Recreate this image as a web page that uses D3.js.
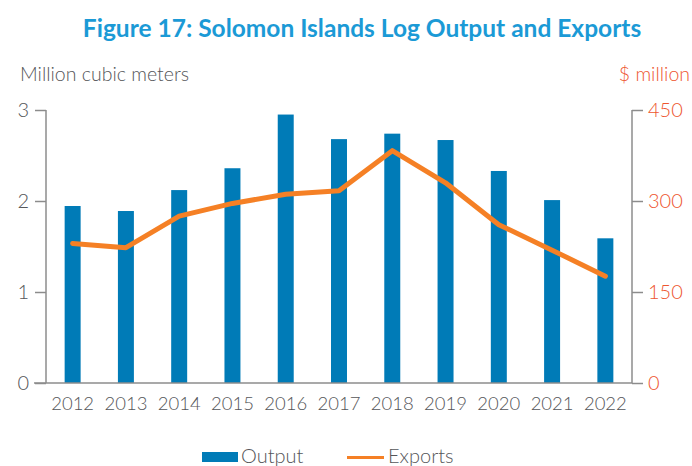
<!DOCTYPE html>
<html lang="en">
<head>
    <meta charset="UTF-8">
    <title>Solomon Islands Log Output and Exports</title>
    <script src="https://d3js.org/d3.v7.min.js"></script>
    <style>
        body { margin: 0; background: #fff; }
        text { font-family: Lato, "Open Sans", sans-serif; }
    </style>
</head>
<body>
<div id="chart"></div>
<script>
    // values
    const years = ["2012", "2013", "2014", "2015", "2016", "2017", "2018", "2019", "2020", "2021", "2022"];
    const output = [1.945, 1.89, 2.12, 2.36, 2.95, 2.68, 2.74, 2.67, 2.33, 2.01, 1.59];
    const exportsM = [230, 223, 275, 296, 311, 317, 383, 330, 261, 219, 176];
    const leftTicks = [0, 1, 2, 3];
    const rightTicks = [0, 150, 300, 450];

    function drawChart(width, height) {
        const svg = d3.select("#chart").append("svg")
            .attr("width", width)
            .attr("height", height)
            .attr("viewBox", [0, 0, width, height]);

        const left = 46, right = 632, top = 110, bottom = 383;
        const axisColor = "#8c8c8c";
        const grey = "#555659";
        const red = "#ee5630";

        const x = d3.scaleBand()
            .domain(years)
            .range([left, right])
            .paddingInner(0.7)
            .paddingOuter(0.35);
        const yL = d3.scaleLinear().domain([0, 3]).range([bottom, top]);
        const yR = d3.scaleLinear().domain([0, 450]).range([bottom, top]);

        // title
        svg.append("text")
            .attr("x", 362).attr("y", 37)
            .attr("text-anchor", "middle")
            .attr("fill", "#1b9ad6")
            .attr("font-size", 24.5)
            .attr("font-weight", 700)
            .text("Figure 17: Solomon Islands Log Output and Exports");

        svg.append("text")
            .attr("x", 20).attr("y", 81)
            .attr("fill", grey)
            .attr("font-size", 19.5)
            .attr("font-weight", 300)
            .text("Million cubic meters");
        svg.append("text")
            .attr("x", 690).attr("y", 81)
            .attr("text-anchor", "end")
            .attr("fill", red)
            .attr("font-size", 19.5)
            .attr("font-weight", 300)
            .text("$ million");

        // bars
        svg.append("g").selectAll("rect")
            .data(years)
            .join("rect")
            .attr("x", d => x(d))
            .attr("y", (d, i) => yL(output[i]))
            .attr("width", x.bandwidth())
            .attr("height", (d, i) => bottom - yL(output[i]))
            .attr("fill", "#007bb7");

        // axes
        const leftAxis = svg.append("g")
            .attr("transform", `translate(${left},0)`)
            .call(d3.axisLeft(yL).tickValues(leftTicks).tickSize(11).tickPadding(6).tickFormat(d3.format("d")));
        leftAxis.select(".domain").attr("stroke", axisColor).attr("stroke-width", 1.5).attr("d", `M0,${top}V${bottom}`);
        leftAxis.selectAll(".tick line").attr("stroke", axisColor).attr("stroke-width", 1.5);
        leftAxis.selectAll(".tick text").attr("fill", grey).attr("font-size", 20).attr("font-weight", 300).attr("font-family", "Lato, sans-serif");

        const rightAxis = svg.append("g")
            .attr("transform", `translate(${right},0)`)
            .call(d3.axisRight(yR).tickValues(rightTicks).tickSize(11).tickPadding(5));
        rightAxis.select(".domain").attr("stroke", axisColor).attr("stroke-width", 1.5).attr("d", `M0,${top}V${bottom}`);
        rightAxis.selectAll(".tick line").attr("stroke", axisColor).attr("stroke-width", 1.5);
        rightAxis.selectAll(".tick text").attr("fill", red).attr("font-size", 20).attr("font-weight", 300).attr("font-family", "Lato, sans-serif");

        const bottomAxis = svg.append("g")
            .attr("transform", `translate(0,${bottom})`)
            .call(d3.axisBottom(x).tickSize(0).tickPadding(14));
        bottomAxis.select(".domain").attr("stroke", axisColor).attr("stroke-width", 1.5)
            .attr("d", `M${left - 12},0H${right}`);
        bottomAxis.selectAll(".tick text").attr("fill", grey).attr("font-size", 18.5).attr("font-weight", 300).attr("font-family", "Lato, sans-serif");

        // exports line
        const line = d3.line()
            .x((d, i) => x(years[i]) + x.bandwidth() / 2)
            .y(d => yR(d));
        svg.append("path")
            .datum(exportsM)
            .attr("d", line)
            .attr("fill", "none")
            .attr("stroke", "#f58025")
            .attr("stroke-width", 5)
            .attr("stroke-linejoin", "round")
            .attr("stroke-linecap", "round");

        // legend
        const legend = svg.append("g");
        legend.append("rect")
            .attr("x", 202).attr("y", 452)
            .attr("width", 36).attr("height", 10)
            .attr("fill", "#007bb7");
        legend.append("text")
            .attr("x", 241).attr("y", 463)
            .attr("fill", grey).attr("font-size", 20).attr("font-weight", 300)
            .text("Output");
        legend.append("line")
            .attr("x1", 347).attr("x2", 384)
            .attr("y1", 457.5).attr("y2", 457.5)
            .attr("stroke", "#f58025").attr("stroke-width", 3);
        legend.append("text")
            .attr("x", 388).attr("y", 463)
            .attr("fill", grey).attr("font-size", 20).attr("font-weight", 300)
            .text("Exports");

        return svg.node();
    }

    document.addEventListener("DOMContentLoaded", () => {
        drawChart(692, 466);
    });
</script>
</body>
</html>
